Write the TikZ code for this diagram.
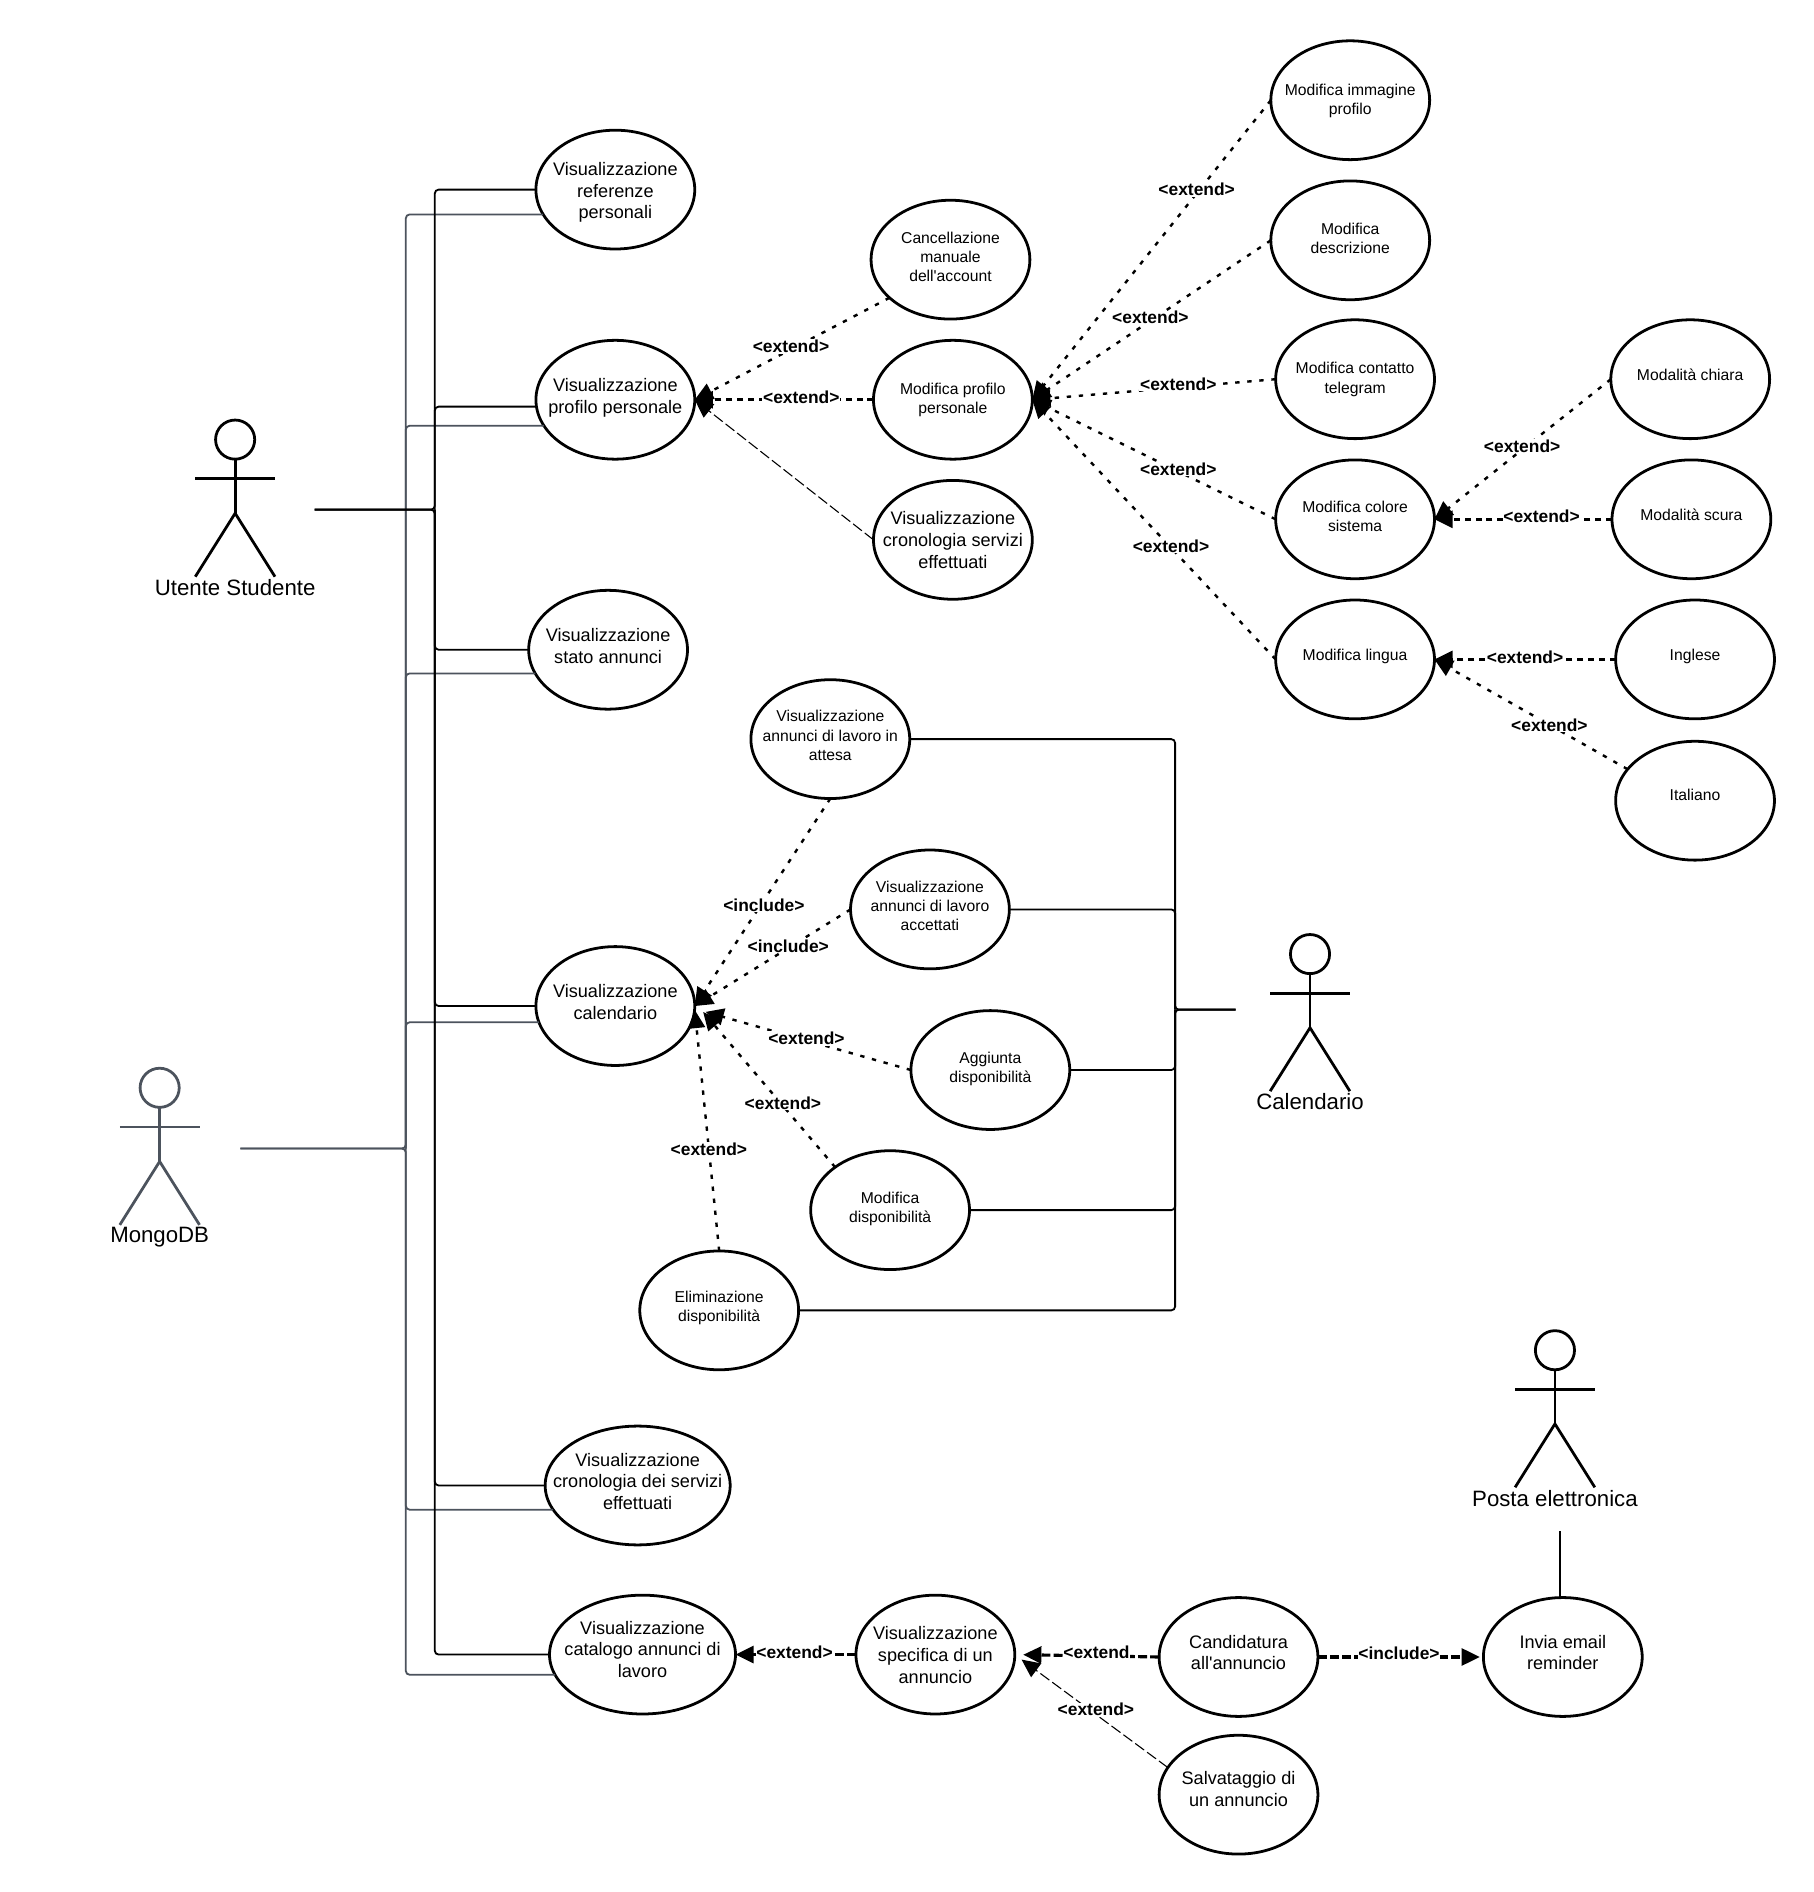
\documentclass[tikz,border=0pt]{standalone}
\usepackage{fontspec}
\usetikzlibrary{arrows.meta,shapes.geometric}
\newfontfamily\ucfont{Liberation Sans}
\definecolor{slategray}{HTML}{4C535D}
\newcommand{\uctext}[2]{\raisebox{#1}[\height][\depth]{\begin{tabular}{@{}c@{}}#2\end{tabular}}}
\newcommand{\actorfig}[6]{%
  \begin{scope}[shift={(#2,#3)},line width=1.15pt,draw=#4]
    \node[circle,draw=#4,line width=1.15pt,minimum size=16.2pt,inner sep=0pt,outer sep=0pt] (#1head) at (0,0) {};
    \coordinate (#1armL) at (-33,32.5);
    \coordinate (#1armR) at (33,32.5);
    \coordinate (#1hip) at (0,61);
    \coordinate (#1footL) at (-33,113.5);
    \coordinate (#1footR) at (33,113.5);
    \draw (#1head.south) -- (#1hip);
    \draw (#1armL) -- (#1armR);
    \draw (#1footL) -- (#1hip) -- (#1footR);
    \node[actorlabel] (#1) at (0,#6) {#5};
  \end{scope}}
\tikzset{
  uc/.style={ellipse,draw=black,line width=1.15pt,minimum width=65.75pt,minimum height=49.2pt,
    inner xsep=-30pt,inner ysep=-18pt,outer sep=0pt,text=black},
  ucbig/.style={uc,font=\ucfont\fontsize{7.5}{9}\selectfont},
  ucsmall/.style={uc,font=\ucfont\fontsize{6.5}{7.9}\selectfont},
  actorlabel/.style={inner sep=0pt,text=black,font=\ucfont\fontsize{9.2}{11}\selectfont},
  lab/.style={fill=white,inner sep=.3pt,text=black,font=\ucfont\bfseries\fontsize{7.2}{8.6}\selectfont},
  tip/.style={-{Triangle[length=7.5pt,width=7pt]}},
  dotline/.style={tip,line width=1pt,dash pattern=on 1.8pt off 3.2pt},
  heavydot/.style={tip,line width=1.2pt,dash pattern=on 2.5pt off 2pt},
  longdash/.style={tip,line width=.45pt,dash pattern=on 4.6pt off 1.5pt},
  bottomdash/.style={tip,line width=1.3pt,dash pattern=on 3.7pt off 1.3pt},
  bus/.style={line width=.75pt,rounded corners=1.6pt,draw=black},
  gbus/.style={line width=.75pt,rounded corners=1.6pt,draw=slategray},
}
\begin{document}
\begin{tikzpicture}[x=.5pt,y=-.5pt]
\useasboundingbox (0,0) rectangle (1502,1566.6);

% use cases, main column
\node[ucbig] (ref) at (509.5,157) {\uctext{-1.3pt}{Visualizzazione\\referenze\\personali}};
\node[ucbig] (prof) at (509.5,331) {\uctext{.8pt}{Visualizzazione\\profilo personale}};
\node[ucbig] (stato) at (503.5,538) {\uctext{.8pt}{Visualizzazione\\stato annunci}};
\node[ucbig] (cal) at (509.5,833) {\uctext{.8pt}{Visualizzazione\\calendario}};
\node[ucbig,minimum width=76.6pt] (cron) at (528,1230) {\uctext{.8pt}{Visualizzazione\\cronologia dei servizi\\effettuati}};
\node[ucbig,minimum width=77pt] (cat) at (532,1370) {\uctext{1.3pt}{Visualizzazione\\catalogo annunci di\\lavoro}};
% profile branch
\node[ucsmall] (canc) at (787,215) {\uctext{.3pt}{Cancellazione\\manuale\\dell'account}};
\node[ucsmall] (modp) at (789,331) {\uctext{0pt}{Modifica profilo\\personale}};
\node[ucbig] (crons) at (789,447) {\uctext{-1pt}{Visualizzazione\\cronologia servizi\\effettuati}};
\node[ucsmall] (img) at (1118,83) {\uctext{-.4pt}{Modifica immagine\\profilo}};
\node[ucsmall] (desc) at (1118,199) {\uctext{0pt}{Modifica\\descrizione}};
\node[ucsmall] (tele) at (1122,314) {\uctext{-.2pt}{Modifica contatto\\telegram}};
\node[ucsmall] (col) at (1122,430) {\uctext{.5pt}{Modifica colore\\sistema}};
\node[ucsmall] (ling) at (1122,546) {\uctext{1pt}{Modifica lingua}};
\node[ucsmall] (chiara) at (1399.5,314) {\uctext{1pt}{Modalità chiara}};
\node[ucsmall] (scura) at (1400.5,430) {\uctext{1pt}{Modalità scura}};
\node[ucsmall] (ing) at (1403.5,546) {\uctext{1pt}{Inglese}};
\node[ucsmall] (ita) at (1403.5,663) {\uctext{1.5pt}{Italiano}};
% calendar branch
\node[ucsmall] (att) at (687.5,612) {\uctext{.8pt}{Visualizzazione\\annunci di lavoro in\\attesa}};
\node[ucsmall] (acc) at (770,753) {\uctext{.8pt}{Visualizzazione\\annunci di lavoro\\accettati}};
\node[ucsmall] (agg) at (820,886) {\uctext{.3pt}{Aggiunta\\disponibilità}};
\node[ucsmall] (mdis) at (737,1002) {\uctext{.3pt}{Modifica\\disponibilità}};
\node[ucsmall] (elim) at (595.5,1085) {\uctext{.8pt}{Eliminazione\\disponibilità}};
% bottom branch
\node[ucbig] (spec) at (774.5,1370) {\uctext{-1pt}{Visualizzazione\\specifica di un\\annuncio}};
\node[ucbig] (cand) at (1025.5,1372) {\uctext{1pt}{Candidatura\\all'annuncio}};
\node[ucbig] (inv) at (1294,1372) {\uctext{1pt}{Invia email\\reminder}};
\node[ucbig] (salv) at (1025.5,1486) {\uctext{1.5pt}{Salvataggio di\\un annuncio}};

% actors
\actorfig{stud}{194.7}{364}{black}{Utente Studente}{122.5}
\actorfig{mongo}{132.2}{900.7}{slategray}{MongoDB}{124}
\actorfig{cala}{1084.7}{790}{black}{Calendario}{122.5}
\actorfig{posta}{1287.5}{1118}{black}{Posta elettronica}{122.5}

% association stubs and buses
\coordinate (studend) at (260.5,422);
\coordinate (sbus) at (360,422);
\coordinate (mongoend) at (199,951);
\coordinate (mbus) at (336,951);
\coordinate (calaend) at (1023,836);
\coordinate (cbus) at (973,836);
\coordinate (postaend) at (1291.5,1268);

\draw[gbus] (mongoend) -- (mbus) |- (ref.199.2);
\draw[gbus] (mbus) |- (prof.200.2);
\draw[gbus] (mbus) |- (stato.198.2);
\draw[gbus] (mbus) |- (cal.192.4);
\draw[gbus] (mongoend) -- (mbus) |- (cron.196.6);
\draw[gbus] (mbus) |- (cat.193.9);

\draw[bus] (studend) -- (sbus) |- (ref.west);
\draw[bus] (sbus) |- (prof.185.2);
\draw[bus] (studend) -- (sbus) |- (stato.west);
\draw[bus] (sbus) |- (cal.west);
\draw[bus] (sbus) |- (cron.west);
\draw[bus] (sbus) |- (cat.west);

\draw[bus] (calaend) -- (cbus) |- (att.east);
\draw[bus] (cbus) |- (acc.east);
\draw[bus] (calaend) -- (cbus) |- (agg.east);
\draw[bus] (cbus) |- (mdis.east);
\draw[bus] (cbus) |- (elim.east);

\draw[line width=.75pt] (postaend) -- (postaend |- inv.north);

% profile relations
\draw[dotline] (canc.212.6) -- node[lab,pos=.506,yshift=1.2pt] (l1) {<extend>} (prof.east);
\draw[heavydot] (modp.west) -- node[lab,pos=.404,yshift=1pt] (l2) {<extend>} (prof.east);
\draw[longdash] (crons.west) -- (prof.east);
\draw[dotline] (img.west) -- node[lab,pos=.311,yshift=1.5pt] (l3) {<extend>} (modp.east);
\draw[dotline] (desc.west) -- node[lab,pos=.505,yshift=1.3pt] (l4) {<extend>} (modp.east);
\draw[dotline] (tele.west) -- node[lab,pos=.4,yshift=1.4pt] (l5) {<extend>} (modp.east);
\draw[dotline] (col.west) -- node[lab,pos=.4,yshift=1.1pt] (l6) {<extend>} (modp.east);
\draw[dotline] (ling.west) -- node[lab,pos=.43,yshift=.7pt] (l7) {<extend>} (modp.east);
\draw[dotline] (chiara.west) -- node[lab,pos=.503,yshift=1.5pt] (l8) {<extend>} (col.east);
\draw[heavydot] (scura.west) -- node[lab,pos=.397,yshift=1.4pt] (l9) {<extend>} (col.east);
\draw[heavydot] (ing.west) -- node[lab,pos=.5,yshift=1pt] (l10) {<extend>} (ling.east);
\draw[dotline] (ita.155.5) -- node[lab,pos=.405] (l11) {<extend>} (ling.east);

% calendar relations
\draw[dotline] (att.south) -- node[lab,pos=.49,yshift=-2pt] (l12) {<include>} (cal.east);
\draw[dotline] (acc.west) -- node[lab,pos=.4,yshift=.7pt] (l13) {<include>} (cal.east);
\draw[dotline,shorten >=4.7pt] (agg.west) -- node[lab,pos=.483,yshift=.8pt] (l14) {<extend>} (cal.-2);
\draw[dotline,shorten >=5.5pt] (mdis.142) -- node[lab,pos=.372,yshift=1pt] (l15) {<extend>} (cal.3);
\draw[dotline,shorten >=.5pt] (elim.north) -- node[lab,pos=.42] (l16) {<extend>} (cal.-2);

% bottom relations
\draw[bottomdash] (spec.west) -- node[lab,pos=.51,yshift=1pt] (l17) {<extend>} (cat.east);
\draw[bottomdash,shorten >=3.5pt] (cand.west) -- node[lab,pos=.434,yshift=1.5pt] (l18) {<extend} (spec.east);
\draw[longdash,shorten >=3.5pt] (salv.159) -- node[lab,pos=.47,yshift=2pt] (l19) {<extend>} (spec.east);
\draw[bottomdash,shorten >=1.5pt] (cand.east) -- node[lab,pos=.49,yshift=1.5pt] (l20) {<include>} (inv.west);
\end{tikzpicture}
\end{document}
